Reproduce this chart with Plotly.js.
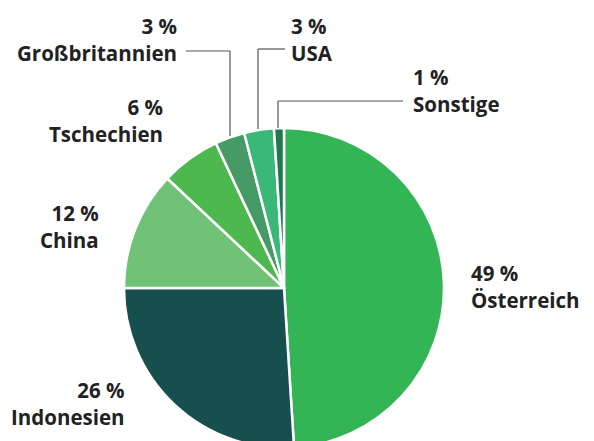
<!DOCTYPE html>
<html>
<head>
<meta charset="utf-8">
<script src="https://cdn.plot.ly/plotly-3.0.1.min.js"></script>
<style>
html,body{margin:0;padding:0;overflow:hidden;background:#fff;width:594px;height:441px;}
#chart{width:594px;height:480px;}
</style>
</head>
<body>
<div id="chart"></div>
<script>
// Data
const countries = ["Österreich", "Indonesien", "China", "Tschechien", "Großbritannien", "USA", "Sonstige"];
const shares = [49, 26, 12, 6, 3, 3, 1];
const sliceColors = ["#33b555", "#174f4f", "#6fc276", "#4db84e", "#469a65", "#3ab877", "#1e7a4b"];

// Label layout (pixel positions in the 594 x 480 canvas)
const W = 594, H = 480;
const labelPos = [
  {x: 469, y: 286, anchor: "left"},
  {x: 127, y: 403, anchor: "right"},
  {x: 101, y: 226, anchor: "right"},
  {x: 165, y: 120, anchor: "right"},
  {x: 179, y: 39, anchor: "right"},
  {x: 289, y: 39, anchor: "left"},
  {x: 411, y: 90, anchor: "left"}
];
const leaders = [
  null, null, null, null,
  [[186, 51], [230, 51], [230, 136]],
  [[285, 49], [258, 49], [258, 129]],
  [[403, 101], [278, 101], [278, 128]]
];

const fx = x => x / W, fy = y => 1 - y / H;

const annotations = countries.map((c, i) => ({
  xref: "paper", yref: "paper",
  x: fx(labelPos[i].x), y: fy(labelPos[i].y),
  xanchor: labelPos[i].anchor, yanchor: "middle",
  align: labelPos[i].anchor,
  text: shares[i] + " %<br>" + c,
  showarrow: false,
  font: {family: "'Open Sans', sans-serif", size: 20.5, color: "#222222", weight: 700}
}));

const shapes = [];
leaders.forEach(pts => {
  if (!pts) return;
  for (let k = 0; k < pts.length - 1; k++) {
    shapes.push({
      type: "line", xref: "paper", yref: "paper",
      x0: fx(pts[k][0]), y0: fy(pts[k][1]), x1: fx(pts[k+1][0]), y1: fy(pts[k+1][1]),
      line: {color: "#555555", width: 1.2}
    });
  }
});

const cx = 284, cy = 288, r = 160;
const data = [{
  type: "pie",
  labels: countries,
  values: shares,
  sort: false,
  direction: "clockwise",
  rotation: 0,
  textinfo: "none",
  hoverinfo: "label+percent",
  marker: {colors: sliceColors, line: {color: "#ffffff", width: 2.5}},
  domain: {x: [(cx - r) / W, (cx + r) / W], y: [1 - (cy + r) / H, 1 - (cy - r) / H]},
  showlegend: false
}];

const layout = {
  width: W, height: H,
  margin: {l: 0, r: 0, t: 0, b: 0},
  paper_bgcolor: "#ffffff",
  showlegend: false,
  annotations: annotations,
  shapes: shapes
};

Plotly.newPlot("chart", data, layout, {displayModeBar: false, staticPlot: true});
</script>
</body>
</html>
